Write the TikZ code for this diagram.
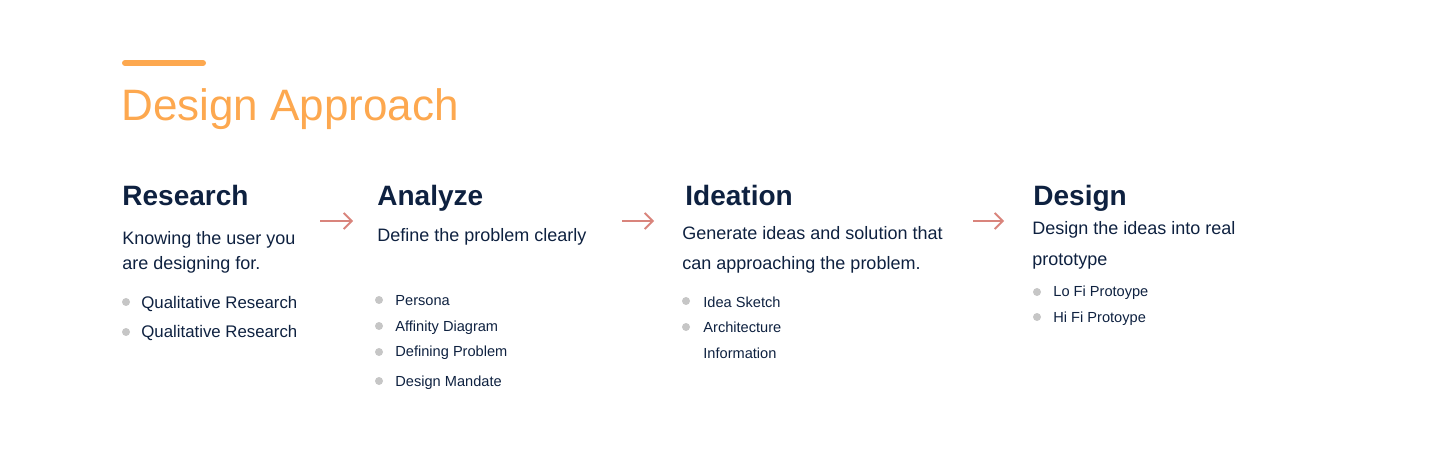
\documentclass[tikz,border=0pt]{standalone}
\usepackage{fontspec}
\setmainfont{Liberation Sans}
\usepackage{xcolor}
\usetikzlibrary{positioning}
\usetikzlibrary{arrows.meta}
\definecolor{titleorange}{HTML}{FDA84F}
\definecolor{textnavy}{HTML}{0E2140}
\definecolor{arrowred}{HTML}{D9847C}
\definecolor{dotgray}{HTML}{C6C6C6}
\tikzset{
  phase title/.style={anchor=base west, inner sep=0pt, text=textnavy,
    font=\fontsize{14}{16}\selectfont\bfseries},
  phase text/.style={anchor=base west, inner sep=0pt, text=textnavy,
    font=\fontsize{9}{11}\selectfont},
  item text/.style={anchor=base west, inner sep=0pt, text=textnavy,
    font=\fontsize{7.3}{9}\selectfont},
  big item/.style={item text, font=\fontsize{8.4}{10}\selectfont},
  item dot/.style={circle, fill=dotgray, inner sep=0pt, minimum size=4pt},
  flow arrow/.style={draw=arrowred, line width=0.9pt,
    -{Straight Barb[length=4pt,width=8pt]}},
}

\begin{document}
\begin{tikzpicture}[x=0.5pt, y=-0.5pt]
  \useasboundingbox (0,0) rectangle (1440,454);

  % Header
  \coordinate (bar_l) at (125,63);
  \coordinate (bar_r) at (203,63);
  \draw[titleorange, line width=3pt, line cap=round] (bar_l) -- (bar_r);
  \node[anchor=base west, inner sep=0pt, text=titleorange,
    font=\fontsize{22}{26}\selectfont] (title) at (121,121) {Design Approach};

  % Define nodes
  \node[phase title] (research) at (122,206) {Research};
  \node[phase text] (research_t1) at (122,245) {Knowing the user you};
  \node[phase text] (research_t2) at (122,270) {are designing for.};
  \node[item dot] (dot_r1) at (126,302) {};
  \node[item dot] (dot_r2) at (126,332) {};
  \node[big item] (research_i1) at (141,308) {Qualitative Research};
  \node[big item] (research_i2) at (141,337) {Qualitative Research};

  \node[phase title] (analyze) at (377,206) {Analyze};
  \node[phase text] (analyze_t1) at (377,242) {Define the problem clearly};
  \node[item dot] (dot_a1) at (379,300) {};
  \node[item dot] (dot_a2) at (379,326) {};
  \node[item dot] (dot_a3) at (379,352) {};
  \node[item dot] (dot_a4) at (379,381) {};
  \node[item text] (analyze_i1) at (395,306) {Persona};
  \node[item text] (analyze_i2) at (395,331) {Affinity Diagram};
  \node[item text] (analyze_i3) at (395,357) {Defining Problem};
  \node[item text] (analyze_i4) at (395,386) {Design Mandate};

  \node[phase title] (ideation) at (685,206) {Ideation};
  \node[phase text] (ideation_t1) at (682,240) {Generate ideas and solution that};
  \node[phase text] (ideation_t2) at (682,270) {can approaching the problem.};
  \node[item dot] (dot_i1) at (686,301) {};
  \node[item dot] (dot_i2) at (686,327) {};
  \node[item text] (ideation_i1) at (703,307) {Idea Sketch};
  \node[item text] (ideation_i2) at (703,332) {Architecture};
  \node[item text] (ideation_i3) at (703,358) {Information};

  \node[phase title] (design) at (1033,206) {Design};
  \node[phase text] (design_t1) at (1032,235) {Design the ideas into real};
  \node[phase text] (design_t2) at (1032,265) {prototype};
  \node[item dot] (dot_d1) at (1037,292) {};
  \node[item dot] (dot_d2) at (1037,317) {};
  \node[item text] (design_i1) at (1053,297) {Lo Fi Protoype};
  \node[item text] (design_i2) at (1053,322) {Hi Fi Protoype};

  % Connect phases
  \coordinate (arr1_s) at (320,221);
  \coordinate (arr1_e) at (353,221);
  \coordinate (arr2_s) at (622,221);
  \coordinate (arr2_e) at (654,221);
  \coordinate (arr3_s) at (973,221);
  \coordinate (arr3_e) at (1004,221);
  \draw[flow arrow] (arr1_s) -- (arr1_e);
  \draw[flow arrow] (arr2_s) -- (arr2_e);
  \draw[flow arrow] (arr3_s) -- (arr3_e);

\end{tikzpicture}
\end{document}
